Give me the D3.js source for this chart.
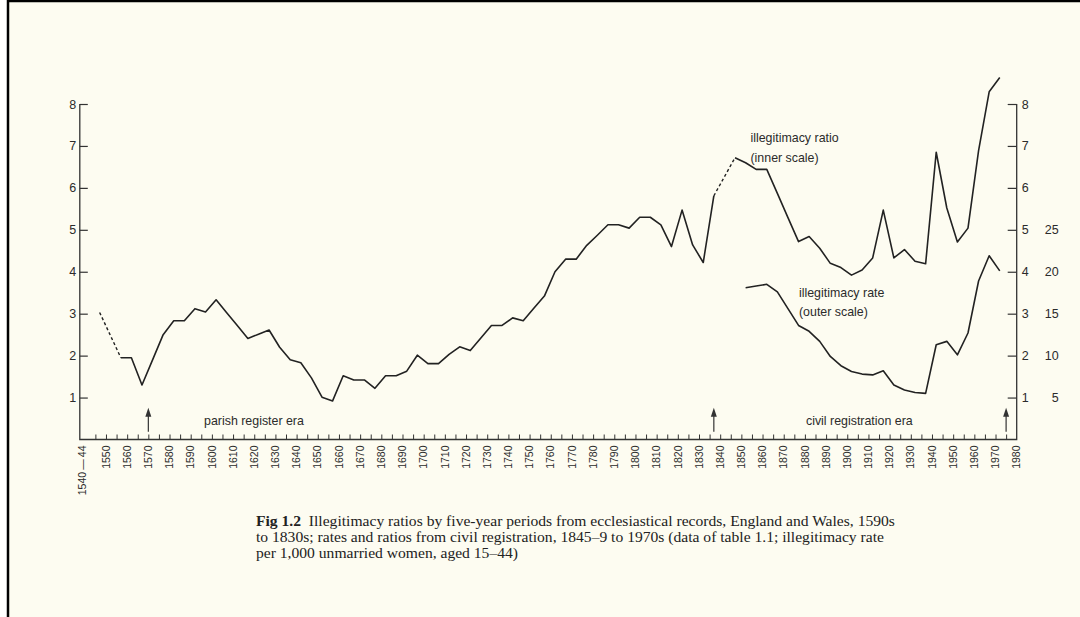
<!DOCTYPE html>
<meta charset="utf-8">
<head>
	<title>Illegitimacy ratios, England and Wales</title>
</head>
<style>
	body { margin: 0; background: #fff; }
	text { font-family: "Liberation Sans", Arial, sans-serif; fill: #2b2b2b; }
	.caption { font-family: "Liberation Serif", "DejaVu Serif", serif; fill: #222; }
</style>
<body>
<svg width="1080" height="617"></svg>

<script src="https://cdnjs.cloudflare.com/ajax/libs/d3/7.8.5/d3.min.js"></script>
<script>

// five-year periods (start year) for the illegitimacy ratio, inner scale
var periods = [1545, 1550, 1555, 1560, 1565, 1570, 1575, 1580, 1585, 1590,
	1595, 1600, 1605, 1610, 1615, 1620, 1625, 1630, 1635, 1640,
	1645, 1650, 1655, 1660, 1665, 1670, 1675, 1680, 1685, 1690,
	1695, 1700, 1705, 1710, 1715, 1720, 1725, 1730, 1735, 1740,
	1745, 1750, 1755, 1760, 1765, 1770, 1775, 1780, 1785, 1790,
	1795, 1800, 1805, 1810, 1815, 1820, 1825, 1830, 1835, 1840,
	1845, 1850, 1855, 1860, 1865, 1870, 1875, 1880, 1885, 1890,
	1895, 1900, 1905, 1910, 1915, 1920, 1925, 1930, 1935, 1940,
	1945, 1950, 1955, 1960, 1965, 1970];

// null = no data, bridged by a dashed line
var ratio = [3.03, null, 1.95, 1.95, 1.30, 1.90, 2.50, 2.83, 2.83, 3.12,
	3.04, 3.33, 3.02, 2.72, 2.41, 2.51, 2.61, 2.20, 1.90, 1.83,
	1.47, 1.01, 0.92, 1.52, 1.42, 1.42, 1.22, 1.52, 1.52, 1.63,
	2.01, 1.81, 1.81, 2.03, 2.21, 2.12, 2.42, 2.72, 2.72, 2.90,
	2.83, 3.13, 3.42, 4.00, 4.30, 4.30, 4.63, 4.87, 5.12, 5.12,
	5.04, 5.30, 5.30, 5.12, 4.60, 5.47, 4.64, 4.22, 5.81, null,
	6.72, 6.60, 6.44, 6.44, 5.87, 5.29, 4.72, 4.84, 4.56, 4.20,
	4.10, 3.92, 4.04, 4.33, 5.47, 4.33, 4.53, 4.25, 4.19, 6.85,
	5.52, 4.71, 5.04, 6.89, 8.29, 8.63];

// illegitimacy rate per 1,000 unmarried women (outer scale)
var ratePeriods = [1850, 1855, 1860, 1865, 1870, 1875, 1880, 1885, 1890, 1895,
	1900, 1905, 1910, 1915, 1920, 1925, 1930, 1935, 1940, 1945,
	1950, 1955, 1960, 1965, 1970];
var rate = [18.1, 18.3, 18.5, 17.6, 15.6, 13.6, 12.9, 11.7, 9.9, 8.8,
	8.1, 7.8, 7.7, 8.2, 6.5, 5.9, 5.6, 5.5, 11.3, 11.7,
	10.1, 12.7, 18.9, 21.9, 20.1];

var innerTicks = [1, 2, 3, 4, 5, 6, 7, 8];
var outerTicks = [5, 10, 15, 20, 25];
var decadeLabels = [1550, 1560, 1570, 1580, 1590, 1600, 1610, 1620, 1630, 1640,
	1650, 1660, 1670, 1680, 1690, 1700, 1710, 1720, 1730, 1740,
	1750, 1760, 1770, 1780, 1790, 1800, 1810, 1820, 1830, 1840,
	1850, 1860, 1870, 1880, 1890, 1900, 1910, 1920, 1930, 1940,
	1950, 1960, 1970, 1980];
var firstLabel = "1540\u2009\u2014\u200944";
var arrowYears = [1570, 1837, 1975];

var notes = [
	{text: "illegitimacy ratio", year: 1854.3, value: 7.2},
	{text: "(inner scale)", year: 1854.3, value: 6.72},
	{text: "illegitimacy rate", year: 1877.2, value: 3.5},
	{text: "(outer scale)", year: 1877.2, value: 3.04},
	{text: "parish register era", year: 1596.3, value: 0.46},
	{text: "civil registration era", year: 1880.5, value: 0.45}
];

var caption = [
	"Illegitimacy ratios by five-year periods from ecclesiastical records, England and Wales, 1590s",
	"to 1830s; rates and ratios from civil registration, 1845\u20139 to 1970s (data of table 1.1; illegitimacy rate",
	"per 1,000 unmarried women, aged 15\u201344)"
];

var svg = d3.select("svg");

// page of the scanned book
svg.append("rect")
	.attr("x", 8).attr("y", 1)
	.attr("width", 1100).attr("height", 640)
	.attr("fill", "#fdfcf1")
	.attr("stroke", "#000")
	.attr("stroke-width", 2.5);

var x = d3.scaleLinear()
	.domain([1540, 1980])
	.range([84.8, 1016.7]);

var y = d3.scaleLinear()
	.domain([0, 8])
	.range([439.5, 104]);

var rateY = d3.scaleLinear()
	.domain([0, 40])
	.range(y.range());

var leftX = x(1540) - 5,
	rightX = x(1980),
	baseY = y(0);

var g = svg.append("g");

// frame: left, right and bottom axes
g.append("path")
	.attr("fill", "none")
	.attr("stroke", "#333")
	.attr("stroke-width", 1.3)
	.attr("d", "M" + leftX + "," + y(8) + "V" + baseY + "H" + rightX + "V" + y(8));

var leftAxis = d3.axisLeft(y)
	.tickValues(innerTicks)
	.tickSize(-8)
	.tickPadding(3.5);

g.append("g")
	.attr("transform", "translate(" + leftX + ",0)")
	.call(leftAxis)
	.call(function(a) {
		a.select(".domain").remove();
		a.selectAll("line").attr("stroke", "#333").attr("stroke-width", 1.2);
		a.selectAll("text").attr("font-size", 12.5).attr("fill", "#2b2b2b");
	});

var rightAxis = d3.axisRight(y)
	.tickValues(innerTicks)
	.tickSize(-9)
	.tickPadding(5);

g.append("g")
	.attr("transform", "translate(" + rightX + ",0)")
	.call(rightAxis)
	.call(function(a) {
		a.select(".domain").remove();
		a.selectAll("line").attr("stroke", "#333").attr("stroke-width", 1.2);
		a.selectAll("text").attr("font-size", 12.5).attr("fill", "#2b2b2b");
	});

// outer scale for the rate
g.selectAll(".outer")
	.data(outerTicks)
	.enter().append("text")
	.attr("class", "outer")
	.attr("x", rightX + 42)
	.attr("y", function(d) { return rateY(d); })
	.attr("dy", "0.35em")
	.attr("text-anchor", "end")
	.attr("font-size", 12.5)
	.text(function(d) { return d; });

// five-year tick marks along the bottom
var bottomAxis = d3.axisBottom(x)
	.tickValues(d3.range(1545, 1980, 5))
	.tickSize(-5)
	.tickFormat("");

g.append("g")
	.attr("transform", "translate(0," + baseY + ")")
	.call(bottomAxis)
	.call(function(a) {
		a.select(".domain").remove();
		a.selectAll("line").attr("stroke", "#333").attr("stroke-width", 1);
	});

// rotated year labels
g.selectAll(".year")
	.data(decadeLabels)
	.enter().append("text")
	.attr("class", "year")
	.attr("transform", function(d) { return "translate(" + x(d) + "," + (baseY + 6) + ") rotate(-90)"; })
	.attr("dy", "0.35em")
	.attr("text-anchor", "end")
	.attr("font-size", 10.5)
	.text(function(d) { return d; });

g.append("text")
	.attr("transform", "translate(" + (x(1540) - 2) + "," + (baseY + 6) + ") rotate(-90)")
	.attr("dy", "0.35em")
	.attr("text-anchor", "end")
	.attr("font-size", 10.5)
	.text(firstLabel);

// data: points sit two years into each five-year period
var ratioData = periods.map(function(p, i) { return {year: p + 2, value: ratio[i]}; });
var rateData = ratePeriods.map(function(p, i) { return {year: p + 2, value: rate[i]}; });

var ratioLine = d3.line()
	.defined(function(d) { return d.value != null; })
	.x(function(d) { return x(d.year); })
	.y(function(d) { return y(d.value); });

var rateLine = d3.line()
	.x(function(d) { return x(d.year); })
	.y(function(d) { return rateY(d.value); });

// dashed bridges across missing periods
var gaps = [];
ratioData.forEach(function(d, i) {
	if (d.value == null) gaps.push([ratioData[i - 1], ratioData[i + 1]]);
});

g.selectAll(".gap")
	.data(gaps)
	.enter().append("path")
	.attr("class", "gap")
	.attr("fill", "none")
	.attr("stroke", "#222")
	.attr("stroke-width", 1.4)
	.attr("stroke-dasharray", "3,2.5")
	.attr("d", ratioLine);

g.append("path")
	.datum(ratioData)
	.attr("fill", "none")
	.attr("stroke", "#222")
	.attr("stroke-width", 1.6)
	.attr("stroke-linejoin", "round")
	.attr("d", ratioLine);

g.append("path")
	.datum(rateData)
	.attr("fill", "none")
	.attr("stroke", "#222")
	.attr("stroke-width", 1.6)
	.attr("stroke-linejoin", "round")
	.attr("d", rateLine);

// arrows marking the start of each era
var arrows = g.selectAll(".arrow")
	.data(arrowYears)
	.enter().append("g")
	.attr("class", "arrow")
	.attr("transform", function(d) { return "translate(" + x(d) + "," + y(0.76) + ")"; });

arrows.append("line")
	.attr("y1", 6).attr("y2", 24)
	.attr("stroke", "#333")
	.attr("stroke-width", 1.2);

arrows.append("path")
	.attr("d", "M0,0L-3,9L3,9Z")
	.attr("fill", "#333");

g.selectAll(".note")
	.data(notes)
	.enter().append("text")
	.attr("class", "note")
	.attr("x", function(d) { return x(d.year); })
	.attr("y", function(d) { return y(d.value); })
	.attr("dy", "0.35em")
	.attr("font-size", 12.4)
	.text(function(d) { return d.text; });

// caption under the figure
var cap = svg.append("text")
	.attr("class", "caption")
	.attr("x", 256)
	.attr("y", 526)
	.attr("font-size", 15.6);

cap.append("tspan")
	.attr("x", 256)
	.attr("font-weight", "bold")
	.text("Fig 1.2");
cap.append("tspan")
	.text("\u2002" + caption[0]);
caption.slice(1).forEach(function(line, i) {
	cap.append("tspan")
		.attr("x", 256)
		.attr("dy", 16)
		.text(line);
});

</script>
</body>
</html>
